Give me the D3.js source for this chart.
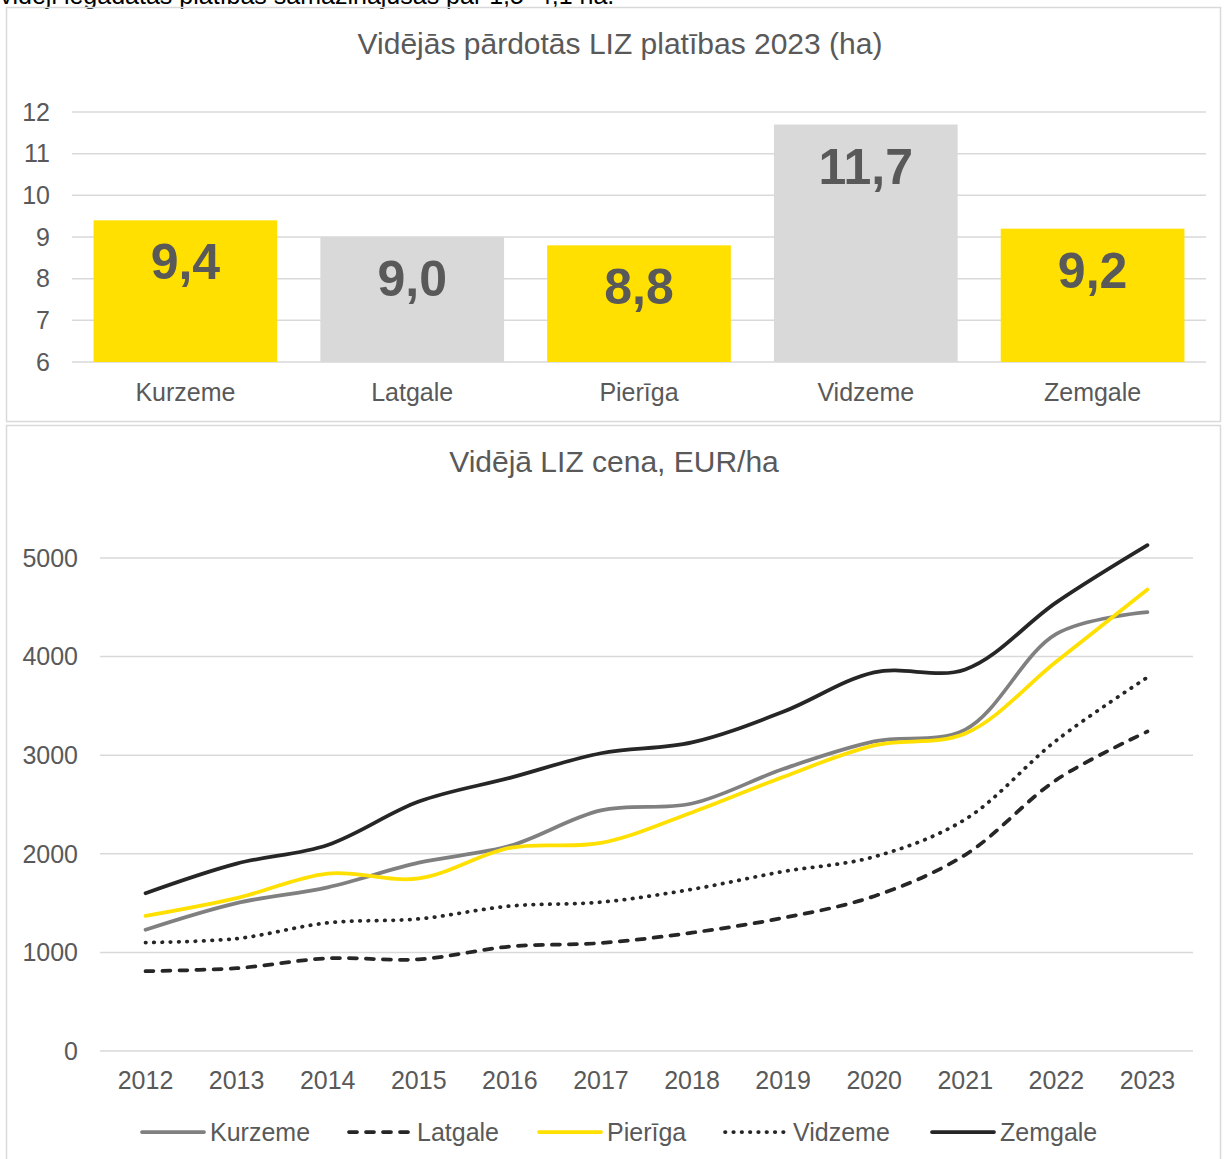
<!DOCTYPE html>
<html>
<head>
<meta charset="utf-8">
<script src="https://cdn.jsdelivr.net/npm/d3@7"></script>
<style>
  html, body { margin: 0; padding: 0; background: #fff; }
  svg { display: block; font-family: "Liberation Sans", Arial, Helvetica, sans-serif; }
</style>
</head>
<body>
<svg id="chart" width="1225" height="1159"></svg>
<script>
// ---------- DATA ----------
const introText = "vidēji iegādātās platības samazinājušās par 1,5–4,1 ha.";

const barTitle = "Vidējās pārdotās LIZ platības 2023 (ha)";
const barCategories = ["Kurzeme", "Latgale", "Pierīga", "Vidzeme", "Zemgale"];
const barValues = [9.4, 9.0, 8.8, 11.7, 9.2];
const barLabels = ["9,4", "9,0", "8,8", "11,7", "9,2"];
const barColors = ["#FFE000", "#D9D9D9", "#FFE000", "#D9D9D9", "#FFE000"];
const barTicks = [6, 7, 8, 9, 10, 11, 12];

const lineTitle = "Vidējā LIZ cena, EUR/ha";
const years = ["2012","2013","2014","2015","2016","2017","2018","2019","2020","2021","2022","2023"];
const kurzeme = [1230, 1500, 1660, 1910, 2080, 2440, 2510, 2860, 3140, 3260, 4230, 4450];
const latgale = [810, 840, 940, 930, 1060, 1095, 1200, 1350, 1570, 1990, 2750, 3240];
const pieriga = [1370, 1550, 1800, 1750, 2060, 2110, 2420, 2780, 3100, 3220, 3950, 4680];
const vidzeme = [1100, 1140, 1300, 1340, 1470, 1510, 1640, 1820, 1970, 2350, 3150, 3790];
const zemgale = [1600, 1900, 2090, 2530, 2770, 3020, 3130, 3440, 3840, 3870, 4550, 5130];
const seriesNames = ["Kurzeme", "Latgale", "Pierīga", "Vidzeme", "Zemgale"];
const lineTicks = [0, 1000, 2000, 3000, 4000, 5000];

// ---------- STYLE ----------
const TXT = "#595959";
const GRID = "#D9D9D9";
const seriesStyle = {
  "Kurzeme": { color: "#808080", dash: null, cap: "round" },
  "Latgale": { color: "#262626", dash: "8,9", cap: "round" },
  "Pierīga": { color: "#FFE000", dash: null, cap: "round" },
  "Vidzeme": { color: "#262626", dash: "0.5,7.8", cap: "round" },
  "Zemgale": { color: "#262626", dash: null, cap: "round" }
};
const seriesData = [kurzeme, latgale, pieriga, vidzeme, zemgale];

const svg = d3.select("#chart");

// intro text (cropped at top, as in the source)
svg.append("text").attr("x", 0).attr("y", 4)
  .attr("font-size", 25).attr("fill", "#000").text(introText);

// panel frames
svg.append("rect").attr("x", 6.5).attr("y", 7.5).attr("width", 1214).attr("height", 414)
  .attr("fill", "none").attr("stroke", GRID).attr("stroke-width", 1.5);
svg.append("rect").attr("x", 6.5).attr("y", 425.5).attr("width", 1214).attr("height", 760)
  .attr("fill", "none").attr("stroke", GRID).attr("stroke-width", 1.5);

// ---------- BAR CHART ----------
const bx = d3.scaleBand().domain(barCategories).range([72, 1206])
  .paddingInner(0.19).paddingOuter(0.095);
const by = d3.scaleLinear().domain([6, 12]).range([362, 112]);

svg.append("text").attr("x", 620).attr("y", 54).attr("text-anchor", "middle")
  .attr("font-size", 30).attr("fill", TXT).text(barTitle);

const gBar = svg.append("g");
gBar.selectAll("line.grid").data(barTicks).join("line")
  .attr("x1", 72).attr("x2", 1206)
  .attr("y1", d => by(d)).attr("y2", d => by(d))
  .attr("stroke", GRID).attr("stroke-width", 1.5);
gBar.selectAll("text.ylab").data(barTicks).join("text")
  .attr("x", 50).attr("y", d => by(d)).attr("dy", "0.35em")
  .attr("text-anchor", "end").attr("font-size", 25).attr("fill", TXT)
  .text(d => d);
gBar.selectAll("rect.bar").data(barCategories).join("rect")
  .attr("x", d => bx(d)).attr("width", bx.bandwidth())
  .attr("y", (d, i) => by(barValues[i]))
  .attr("height", (d, i) => by(6) - by(barValues[i]))
  .attr("fill", (d, i) => barColors[i]);
gBar.selectAll("text.val").data(barCategories).join("text")
  .attr("x", d => bx(d) + bx.bandwidth() / 2)
  .attr("y", (d, i) => by(barValues[i]) + 59)
  .attr("text-anchor", "middle").attr("font-size", 50).attr("font-weight", "bold")
  .attr("fill", TXT).text((d, i) => barLabels[i]);
gBar.selectAll("text.cat").data(barCategories).join("text")
  .attr("x", d => bx(d) + bx.bandwidth() / 2).attr("y", 401)
  .attr("text-anchor", "middle").attr("font-size", 25).attr("fill", TXT)
  .text(d => d);

// ---------- LINE CHART ----------
const lx = d3.scalePoint().domain(years).range([100, 1193]).padding(0.5);
const ly = d3.scaleLinear().domain([0, 5000]).range([1051, 558]);

svg.append("text").attr("x", 614).attr("y", 472).attr("text-anchor", "middle")
  .attr("font-size", 30).attr("fill", TXT).text(lineTitle);

const gLine = svg.append("g");
gLine.selectAll("line.grid").data(lineTicks).join("line")
  .attr("x1", 100).attr("x2", 1193)
  .attr("y1", d => ly(d)).attr("y2", d => ly(d))
  .attr("stroke", GRID).attr("stroke-width", 1.5);
gLine.selectAll("text.ylab").data(lineTicks).join("text")
  .attr("x", 78).attr("y", d => ly(d)).attr("dy", "0.35em")
  .attr("text-anchor", "end").attr("font-size", 25).attr("fill", TXT)
  .text(d => d);
gLine.selectAll("text.xlab").data(years).join("text")
  .attr("x", d => lx(d)).attr("y", 1089)
  .attr("text-anchor", "middle").attr("font-size", 25).attr("fill", TXT)
  .text(d => d);

const lineGen = d3.line()
  .x((d, i) => lx(years[i]))
  .y(d => ly(d))
  .curve(d3.curveCatmullRom.alpha(0.5));

seriesNames.forEach((name, k) => {
  const st = seriesStyle[name];
  gLine.append("path").datum(seriesData[k])
    .attr("d", lineGen)
    .attr("fill", "none").attr("stroke", st.color).attr("stroke-width", 3.75)
    .attr("stroke-linecap", st.cap).attr("stroke-linejoin", "round")
    .attr("stroke-dasharray", st.dash);
});

// legend
const legendX = [140, 347, 537, 723, 930];
const gLeg = svg.append("g");
seriesNames.forEach((name, k) => {
  const st = seriesStyle[name];
  gLeg.append("line")
    .attr("x1", legendX[k] + 2).attr("x2", legendX[k] + 64)
    .attr("y1", 1132).attr("y2", 1132)
    .attr("stroke", st.color).attr("stroke-width", 3.75)
    .attr("stroke-linecap", st.cap).attr("stroke-dasharray", st.dash);
  gLeg.append("text").attr("x", legendX[k] + 70).attr("y", 1141)
    .attr("font-size", 25).attr("fill", TXT).text(name);
});
</script>
</body>
</html>
